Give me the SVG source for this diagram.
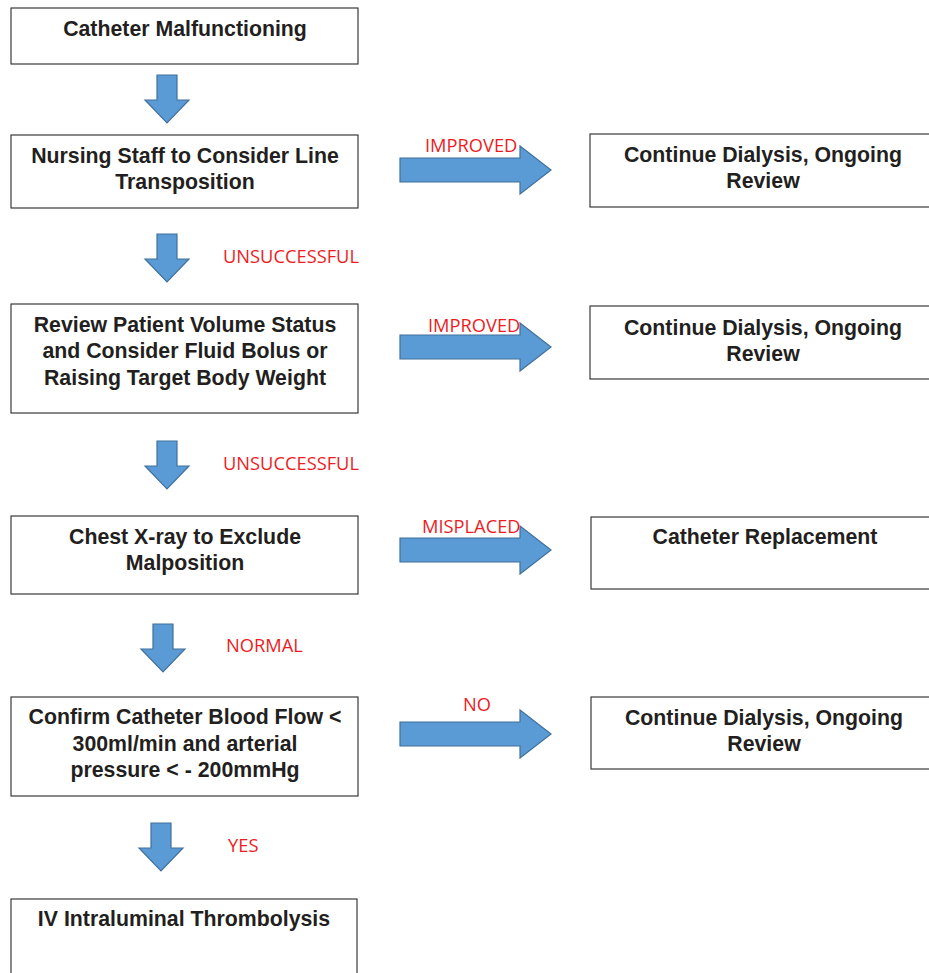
<svg xmlns="http://www.w3.org/2000/svg" width="929" height="973" viewBox="0 0 929 973">
<style>
.box{fill:#fff;stroke:#3a3a3a;stroke-width:1.2}
.t{font-family:"Liberation Sans",Arial,sans-serif;font-weight:bold;font-size:21.3px;fill:#231f20;text-anchor:middle}
.lbl{font-family:"Open Sans","Liberation Sans",sans-serif;font-size:18.3px;fill:#ed1c24}
.arr{fill:#5b9bd5;stroke:#41719c;stroke-width:1.2}
</style>
<defs>
<path id="da" d="M-10,0 H10 V25 H22 L0,48 L-22,25 H-10 Z"/>
<path id="ra" d="M0,-12 H120 V-24 L151,0 L120,24 V12 H0 Z"/>
</defs>
<rect width="929" height="973" fill="#fff"/>
<g id="n1"><rect class="box" x="11" y="8" width="347" height="56"/><text class="t" x="185" y="36">Catheter Malfunctioning</text></g>
<g id="n2"><rect class="box" x="11" y="135" width="347" height="73"/><text class="t" x="185" y="163">Nursing Staff to Consider Line</text><text class="t" x="185" y="189">Transposition</text></g>
<g id="n3"><rect class="box" x="590" y="134" width="345" height="73"/><text class="t" x="763" y="162">Continue Dialysis, Ongoing</text><text class="t" x="763" y="188">Review</text></g>
<g id="n4"><rect class="box" x="11" y="304" width="347" height="109"/><text class="t" x="185" y="332">Review Patient Volume Status</text><text class="t" x="185" y="358">and Consider Fluid Bolus or</text><text class="t" x="185" y="385">Raising Target Body Weight</text></g>
<g id="n5"><rect class="box" x="590" y="306" width="345" height="73"/><text class="t" x="763" y="335">Continue Dialysis, Ongoing</text><text class="t" x="763" y="361">Review</text></g>
<g id="n6"><rect class="box" x="11" y="516" width="347" height="78"/><text class="t" x="185" y="544">Chest X-ray to Exclude</text><text class="t" x="185" y="570">Malposition</text></g>
<g id="n7"><rect class="box" x="591" y="517" width="345" height="72"/><text class="t" x="765" y="544">Catheter Replacement</text></g>
<g id="n8"><rect class="box" x="11" y="697" width="347" height="99"/><text class="t" x="185" y="724">Confirm Catheter Blood Flow &lt;</text><text class="t" x="185" y="751">300ml/min and arterial</text><text class="t" x="185" y="777">pressure &lt; - 200mmHg</text></g>
<g id="n9"><rect class="box" x="591" y="697" width="345" height="72"/><text class="t" x="764" y="725">Continue Dialysis, Ongoing</text><text class="t" x="764" y="751">Review</text></g>
<g id="n10"><rect class="box" x="11" y="899" width="346" height="90"/><text class="t" x="184" y="926">IV Intraluminal Thrombolysis</text></g>
<g id="connectors">
<use href="#da" class="arr" x="167" y="75"/>
<use href="#da" class="arr" x="167" y="234"/>
<use href="#da" class="arr" x="167" y="441"/>
<use href="#da" class="arr" x="163" y="624"/>
<use href="#da" class="arr" x="161" y="823"/>
<use href="#ra" class="arr" x="400" y="170"/>
<use href="#ra" class="arr" x="400" y="347"/>
<use href="#ra" class="arr" x="400" y="550"/>
<use href="#ra" class="arr" x="400" y="734"/>
<text class="lbl" x="425" y="152">IMPROVED</text>
<text class="lbl" x="223" y="263">UNSUCCESSFUL</text>
<text class="lbl" x="428" y="332">IMPROVED</text>
<text class="lbl" x="223" y="470">UNSUCCESSFUL</text>
<text class="lbl" x="422" y="533">MISPLACED</text>
<text class="lbl" x="226" y="652">NORMAL</text>
<text class="lbl" x="463" y="711">NO</text>
<text class="lbl" x="228" y="852">YES</text>
</g>
</svg>
